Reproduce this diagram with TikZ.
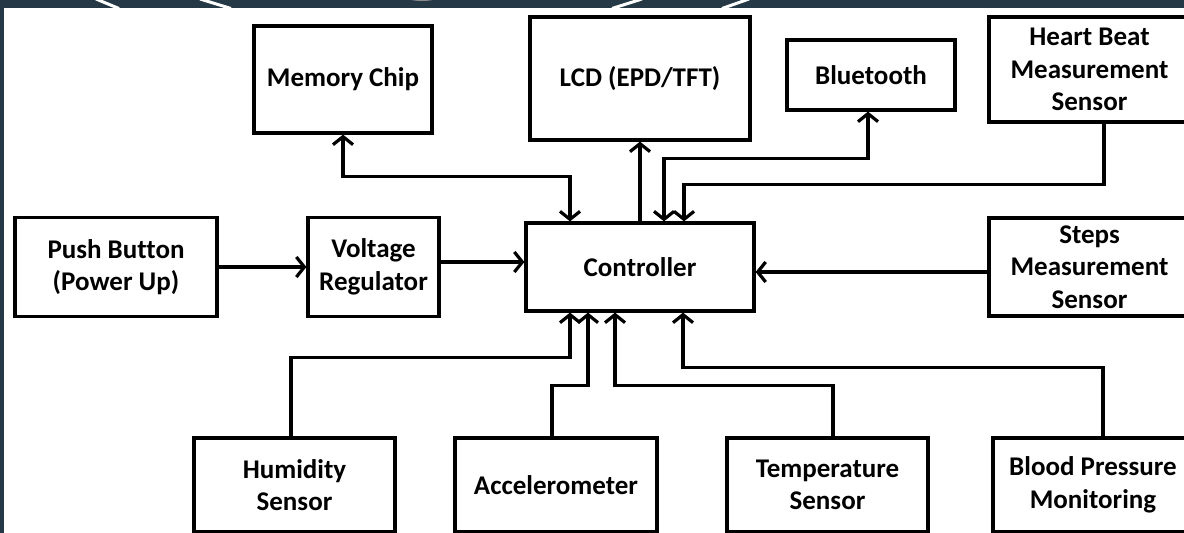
\documentclass[tikz,border=0pt]{standalone}
\usepackage{fontspec}
\setmainfont{Carlito}[Ligatures=NoCommon]
\usetikzlibrary{arrows.meta}
\definecolor{band}{RGB}{37,56,69}
\tikzset{
  blk/.style={draw=black, line width=3.2pt, fill=white, inner sep=0pt, align=center,
    font=\fontsize{27}{32.5}\selectfont\bfseries},
  conn/.style={line width=3.2pt, line join=miter, -{Straight Barb[length=8pt,width=20pt]}},
  biconn/.style={line width=3.2pt, line join=miter, {Straight Barb[length=8pt,width=20pt]}-{Straight Barb[length=8pt,width=20pt]}},
  bandline/.style={draw=white, line width=3pt}
}
\begin{document}
\begin{tikzpicture}[x=1pt,y=-1pt]
\useasboundingbox (0,0) rectangle (1184,533);
\fill[white] (0,0) rectangle (1184,533);
% dark frame band
\fill[band] (0,0) rectangle (1184,7.5);
\fill[band] (0,0) rectangle (3.5,533);
\begin{scope}
  \clip (0,0) rectangle (1184,7.5);
  \draw[bandline] (96,-1) -- (119,8.5);
  \draw[bandline] (200,-1) -- (231,8.5);
  \draw[bandline] (642,-1) -- (612,8.5);
  \draw[bandline] (749,-1) -- (722,8.5);
  \fill[black!45] (422,-3) ellipse (16pt and 4pt);
\end{scope}

% boxes
\node[blk, minimum width=178pt, minimum height=107pt] (mem) at (343,79.5) {Memory Chip};
\node[blk, minimum width=220pt, minimum height=123pt] (lcd) at (640,78.5) {LCD (EPD/TFT)};
\node[blk, minimum width=168pt, minimum height=70pt] (bt) at (871,75) {Bluetooth};
\node[blk, minimum width=201pt, minimum height=105pt] (hb) at (1089.5,69.5) {Heart Beat\\Measurement\\Sensor};
\node[blk, minimum width=202pt, minimum height=99pt] (push) at (116,267) {Push Button\\(Power Up)};
\node[blk, minimum width=131pt, minimum height=99pt] (volt) at (373.5,267) {Voltage\\Regulator};
\node[blk, minimum width=228pt, minimum height=88pt] (ctrl) at (640,267) {Controller};
\node[blk, minimum width=201pt, minimum height=98pt] (steps) at (1089.5,267) {Steps\\Measurement\\Sensor};
\node[blk, minimum width=201pt, minimum height=94pt] (hum) at (294.5,485) {Humidity\\Sensor};
\node[blk, minimum width=202pt, minimum height=94pt] (acc) at (556,485) {Accelerometer};
\node[blk, minimum width=201pt, minimum height=94pt] (temp) at (827.5,485) {Temperature\\Sensor};
\node[blk, minimum width=200pt, minimum height=94pt] (bp) at (1093,485) {Blood Pressure\\Monitoring};

% connectors, top side
\draw[biconn] (mem.south) -- ++(0,42) -| ([xshift=-70pt]ctrl.north);
\draw[conn] (ctrl.north) -- (lcd.south);
\draw[biconn] ([xshift=24pt]ctrl.north) -- ++(0,-63) -| ([xshift=-3pt]bt.south);
\draw[conn] ([xshift=14.5pt]hb.south) -- ++(0,61) -| ([xshift=44pt]ctrl.north);
% left and right
\draw[conn] (push.east) -- (volt.west);
\draw[conn] ([yshift=5pt]volt.east) -- ([yshift=5pt]ctrl.west);
\draw[conn] ([yshift=-5pt]steps.west) -- ([yshift=-5pt]ctrl.east);
% bottom side
\draw[conn] ([xshift=-3.5pt]hum.north) -- ++(0,-79) -| ([xshift=-70pt]ctrl.south);
\draw[conn] ([xshift=-4pt]acc.north) -- ++(0,-51) -| ([xshift=-52pt]ctrl.south);
\draw[conn] ([xshift=5.5pt]temp.north) -- ++(0,-51) -| ([xshift=-25pt]ctrl.south);
\draw[conn] ([xshift=10pt]bp.north) -- ++(0,-69) -| ([xshift=43pt]ctrl.south);
\end{tikzpicture}
\end{document}
